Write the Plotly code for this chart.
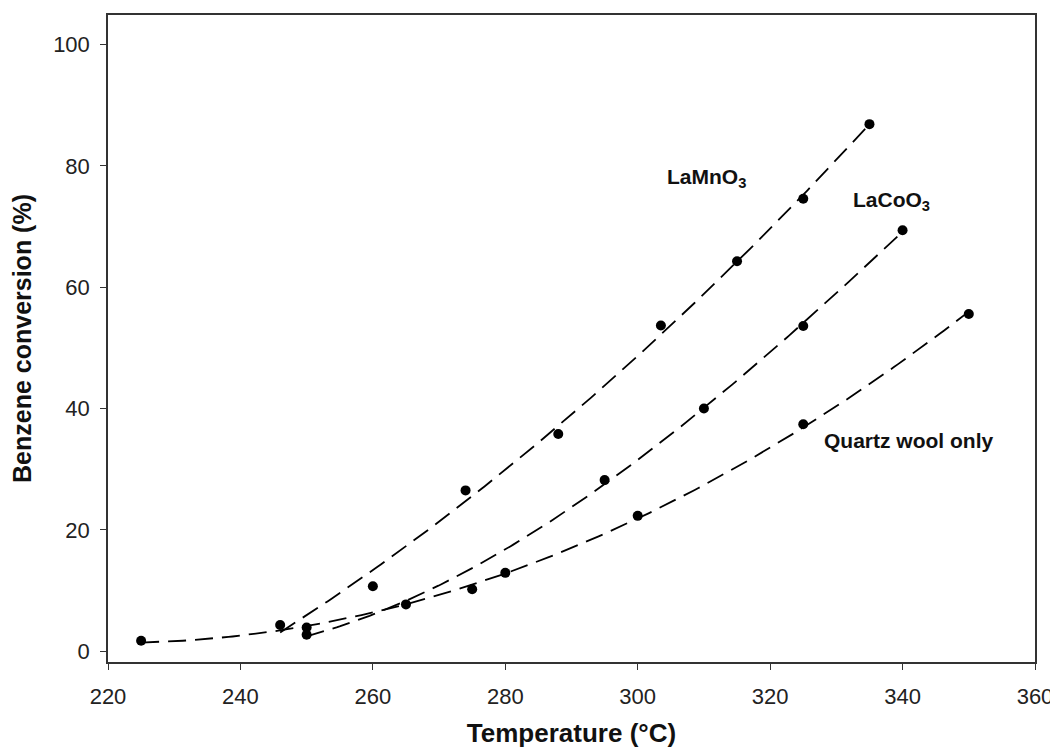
import numpy as np
import plotly.graph_objects as go

# Data
lamno3_temp = [246, 260, 274, 288, 303.5, 315, 325, 335]
lamno3_conv = [4.3, 10.7, 26.5, 35.8, 53.7, 64.3, 74.6, 86.9]

lacoo3_temp = [250, 265, 295, 310, 325, 340]
lacoo3_conv = [2.7, 7.7, 28.2, 40.0, 53.6, 69.4]

quartz_temp = [225, 250, 275, 280, 300, 325, 350]
quartz_conv = [1.7, 3.9, 10.2, 12.9, 22.3, 37.4, 55.6]

x_ticks = [220, 240, 260, 280, 300, 320, 340, 360]
y_ticks = [0, 20, 40, 60, 80, 100]

# (name, temperatures, conversions, polynomial degree of the fitted trend line)
series = [
    ("LaMnO<sub>3</sub>", lamno3_temp, lamno3_conv, 2),
    ("LaCoO<sub>3</sub>", lacoo3_temp, lacoo3_conv, 3),
    ("Quartz wool only", quartz_temp, quartz_conv, 2),
]

FONT = "Liberation Sans, Arial, Helvetica, sans-serif"

fig = go.Figure()
for name, xs, ys, deg in series:
    coef = np.polyfit(xs, ys, deg)
    xf = np.linspace(min(xs), max(xs), 200)
    yf = np.polyval(coef, xf)
    fig.add_trace(go.Scatter(
        x=xf, y=yf, mode="lines",
        line=dict(color="black", width=1.8, dash="18px,9px"),
        showlegend=False, hoverinfo="skip"))
    fig.add_trace(go.Scatter(
        x=xs, y=ys, mode="markers", name=name,
        marker=dict(color="black", size=10),
        showlegend=False))

label_style = dict(showarrow=False, font=dict(family=FONT, size=21, color="#111"),
                   xref="x", yref="y")
fig.add_annotation(x=310.4, y=78.0, text="<b>LaMnO<sub>3</sub></b>", **label_style)
fig.add_annotation(x=338.3, y=74.2, text="<b>LaCoO<sub>3</sub></b>", **label_style)
fig.add_annotation(x=340.9, y=34.7, text="<b>Quartz wool only</b>", **label_style)

axis_common = dict(
    showgrid=False, zeroline=False, showline=True, linecolor="#333", linewidth=1.5,
    mirror=True, ticks="outside", tickcolor="#333", ticklen=6, tickwidth=1.2,
    tickfont=dict(family=FONT, size=22, color="#222"),
)

# page body has an 8px margin, so the figure is sized/margined to compensate
fig.update_layout(
    width=1050, height=740,
    margin=dict(l=100, r=21, t=5, b=86),
    paper_bgcolor="white", plot_bgcolor="white",
    xaxis=dict(range=[220, 360], tickvals=x_ticks, ticklabelstandoff=8,
               title=dict(text="<b>Temperature (°C)</b>",
                          font=dict(family=FONT, size=26, color="#111"), standoff=16),
               **axis_common),
    yaxis=dict(range=[-1.8, 104.9], tickvals=y_ticks, ticklabelstandoff=6,
               title=dict(text="<b>Benzene conversion (%)</b>",
                          font=dict(family=FONT, size=25, color="#111"), standoff=14),
               **axis_common),
)

fig.write_html("out.html")
